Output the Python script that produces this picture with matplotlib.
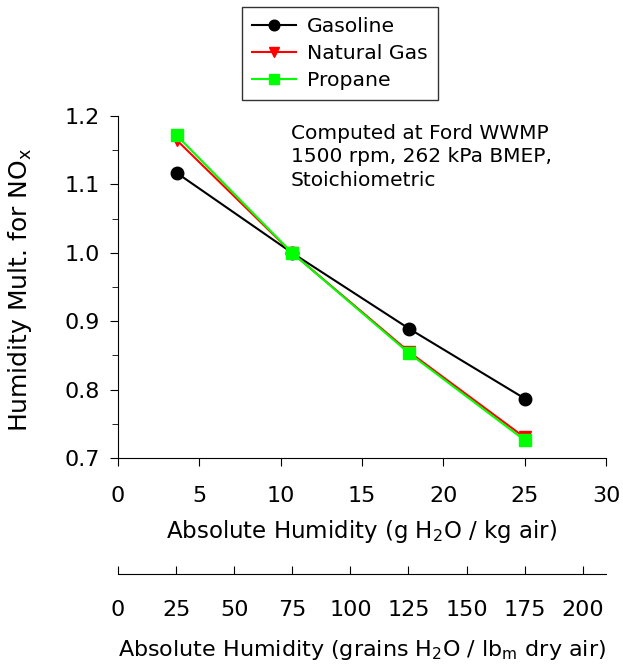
import matplotlib
matplotlib.use("Agg")
import matplotlib.pyplot as plt
from matplotlib.ticker import MultipleLocator

# Absolute Feuchte in g H2O / kg Luft
humidity = [3.6, 10.7, 17.9, 25.0]

gasoline = [1.117, 1.000, 0.889, 0.787]
natural_gas = [1.165, 1.000, 0.855, 0.730]
propane = [1.172, 1.000, 0.853, 0.726]

grain_ticks = [0, 25, 50, 75, 100, 125, 150, 175, 200]
grains_per_g_kg = 7.0  # 1 g/kg = 7 grains/lb

plt.rcParams["font.family"] = "DejaVu Sans"

fig = plt.figure(figsize=(6.23, 6.66), dpi=100)
ax = fig.add_axes([0.1894, 0.3123, 0.7833, 0.5135])

ax.plot(humidity, gasoline, color="black", marker="o", markersize=9, lw=1.5, label="Gasoline")
ax.plot(humidity, natural_gas, color="red", marker="v", markersize=9, lw=1.5, label="Natural Gas")
ax.plot(humidity, propane, color="#00ff00", marker="s", markersize=9, lw=1.5, label="Propane")

ax.set_xlim(0, 30)
ax.set_ylim(0.7, 1.2)
ax.xaxis.set_major_locator(MultipleLocator(5))
ax.yaxis.set_major_locator(MultipleLocator(0.1))
ax.yaxis.set_minor_locator(MultipleLocator(0.05))
ax.yaxis.set_major_formatter(plt.FormatStrFormatter("%.1f"))

for s in ["top", "right"]:
    ax.spines[s].set_visible(False)
ax.tick_params(axis="both", which="major", direction="out", length=6, labelsize=16)
ax.tick_params(axis="y", which="minor", direction="out", length=4)
ax.tick_params(axis="x", pad=14)
ax.tick_params(axis="y", pad=7)

ax.set_xlabel("Absolute Humidity (g H$_\\mathregular{2}$O / kg air)", fontsize=16.5, labelpad=9)
ax.set_ylabel("Humidity Mult. for NO$_\\mathregular{x}$", fontsize=18)
ax.yaxis.set_label_coords(-0.172, 0.49)

ax.text(0.3545, 0.977, "Computed at Ford WWMP\n1500 rpm, 262 kPa BMEP,\nStoichiometric",
        transform=ax.transAxes, fontsize=14.5, va="top", ha="left", linespacing=1.3)

leg = fig.legend(loc="upper left", bbox_to_anchor=(242 / 623, 1 - 7 / 666), borderaxespad=0,
                 fontsize=14.7, frameon=True, fancybox=False, edgecolor="black",
                 handlelength=2.15, handletextpad=0.55, borderpad=0.5, labelspacing=0.38,
                 markerscale=0.85)
leg.get_frame().set_linewidth(1.0)

# zweite x-Achse in grains / lb
ax2 = fig.add_axes([0.1894, 0.1381, 0.7833, 0.0001])
ax2.set_xlim(0, 30 * grains_per_g_kg)
ax2.set_xticks(grain_ticks)
ax2.set_yticks([])
for s in ["top", "left", "right"]:
    ax2.spines[s].set_visible(False)
ax2.patch.set_visible(False)
ax2.tick_params(axis="x", direction="in", length=6, labelsize=16, pad=19)
ax2.set_xlabel("Absolute Humidity (grains H$_\\mathregular{2}$O / lb$_\\mathregular{m}$ dry air)",
               fontsize=16, labelpad=13)

fig.savefig("out.png", dpi=100)
